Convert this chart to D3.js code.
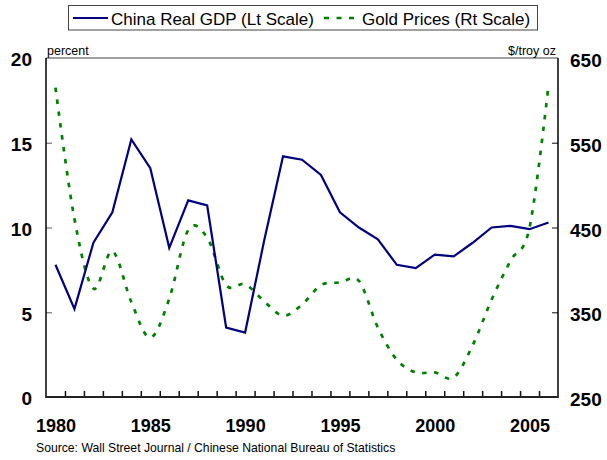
<!DOCTYPE html>
<html>
<head>
<meta charset="utf-8">
<script src="https://cdn.jsdelivr.net/npm/d3@7"></script>
<style>
  html, body { margin: 0; padding: 0; background: #fff; }
  svg { display: block; font-family: "Liberation Sans", Arial, sans-serif; }
</style>
</head>
<body>
<svg id="chart" width="607" height="460"></svg>
<script>
const years = d3.range(1980, 2007);
const gdp = [7.8, 5.2, 9.1, 10.9, 15.2, 13.5, 8.8, 11.6, 11.3, 4.1, 3.8, 9.2, 14.2, 14.0, 13.1, 10.9, 10.0, 9.3, 7.8, 7.6, 8.4, 8.3, 9.1, 10.0, 10.1, 9.9, 10.3];
const gold = [615, 460, 378, 422, 362, 320, 366, 447, 438, 382, 383, 363, 346, 359, 382, 385, 387, 332, 294, 279, 279, 273, 311, 365, 411, 450, 618];
const leftTicks = [0, 5, 10, 15, 20];
const rightTicks = [250, 350, 450, 550, 650];
const xLabels = [1980, 1985, 1990, 1995, 2000, 2005];
const legendLabels = ["China Real GDP (Lt Scale)", "Gold Prices (Rt Scale)"];

const svg = d3.select("#chart");
const L = 46, R = 558, T = 58, B = 397;

const x = d3.scaleLinear().domain([1979.5, 2006.5]).range([L, R]);
const yL = d3.scaleLinear().domain([0, 20]).range([B, T]);
const yR = d3.scaleLinear().domain([250, 650]).range([B, T]);

// frame top (gray)
svg.append("line").attr("x1", L).attr("x2", R).attr("y1", T).attr("y2", T)
  .attr("stroke", "#808080").attr("stroke-width", 1.5);

// x ticks at category boundaries
const bounds = d3.range(1980, 2007).map(d => d + 0.5).filter(d => d < 2006.5);
const xt = svg.append("g").attr("transform", `translate(0,${B})`)
  .call(d3.axisBottom(x).tickValues(bounds).tickSize(-6).tickFormat(""));
xt.select(".domain").remove();
xt.selectAll("line").attr("stroke", "#111").attr("stroke-width", 1.5);

// x labels
const xl = svg.append("g").attr("transform", `translate(0,${B})`)
  .call(d3.axisBottom(x).tickValues(xLabels).tickSize(0).tickPadding(22).tickFormat(d3.format("d")));
xl.select(".domain").remove();
xl.selectAll("text").attr("font-size", 18).attr("font-weight", "bold")
  .attr("fill", "#000").attr("font-family", "Liberation Sans, Arial, sans-serif");

// left ticks inside
const ylt = svg.append("g").attr("transform", `translate(${L},0)`)
  .call(d3.axisLeft(yL).tickValues([5, 10, 15]).tickSize(-6).tickFormat(""));
ylt.select(".domain").remove();
ylt.selectAll("line").attr("stroke", "#777").attr("stroke-width", 1.2);
const yll = svg.append("g").attr("transform", `translate(${L},0)`)
  .call(d3.axisLeft(yL).tickValues(leftTicks).tickSize(0).tickPadding(14));
yll.select(".domain").remove();
yll.selectAll("text").attr("font-size", 19).attr("font-weight", "bold").attr("dy", "0.42em")
  .attr("fill", "#000").attr("font-family", "Liberation Sans, Arial, sans-serif");

// right ticks inside
const yrt = svg.append("g").attr("transform", `translate(${R},0)`)
  .call(d3.axisRight(yR).tickValues([350, 450, 550]).tickSize(-6).tickFormat(""));
yrt.select(".domain").remove();
yrt.selectAll("line").attr("stroke", "#333").attr("stroke-width", 1.2);
const yrl = svg.append("g").attr("transform", `translate(${R},0)`)
  .call(d3.axisRight(yR).tickValues(rightTicks).tickSize(0).tickPadding(12));
yrl.select(".domain").remove();
yrl.selectAll("text").attr("font-size", 19).attr("font-weight", "bold").attr("dy", "0.45em")
  .attr("fill", "#000").attr("font-family", "Liberation Sans, Arial, sans-serif");

// axis lines
svg.append("line").attr("x1", L).attr("x2", L).attr("y1", T).attr("y2", B + 1)
  .attr("stroke", "#000").attr("stroke-width", 1.5);
svg.append("line").attr("x1", R).attr("x2", R).attr("y1", T).attr("y2", B + 1)
  .attr("stroke", "#000").attr("stroke-width", 1.5);
svg.append("line").attr("x1", L).attr("x2", R).attr("y1", B).attr("y2", B)
  .attr("stroke", "#222").attr("stroke-width", 2);

// unit labels
svg.append("text").attr("x", 47).attr("y", 55).attr("font-size", 12.5).attr("fill", "#000").text("percent");
svg.append("text").attr("x", 556).attr("y", 55).attr("font-size", 12.5).attr("fill", "#000")
  .attr("text-anchor", "end").text("$/troy oz");

// lines
const goldLine = d3.line().x((d, i) => x(years[i])).y(d => yR(d)).curve(d3.curveCardinal.tension(0));
svg.append("path").datum(gold).attr("d", goldLine).attr("fill", "none")
  .attr("stroke", "#008000").attr("stroke-width", 2.7).attr("stroke-dasharray", "4.5,7.5");

const gdpLine = d3.line().x((d, i) => x(years[i])).y(d => yL(d));
svg.append("path").datum(gdp).attr("d", gdpLine).attr("fill", "none")
  .attr("stroke", "#000080").attr("stroke-width", 2.2).attr("stroke-linejoin", "miter");

// legend
svg.append("rect").attr("x", 68.5).attr("y", 5.5).attr("width", 469).attr("height", 24.5)
  .attr("fill", "#fff").attr("stroke", "#444").attr("stroke-width", 1);
svg.append("line").attr("x1", 73).attr("x2", 108).attr("y1", 18).attr("y2", 18)
  .attr("stroke", "#000080").attr("stroke-width", 2.2);
svg.append("text").attr("x", 111).attr("y", 24.5).attr("font-size", 17).attr("fill", "#000").text(legendLabels[0]);
svg.append("line").attr("x1", 324).attr("x2", 355).attr("y1", 18).attr("y2", 18)
  .attr("stroke", "#008000").attr("stroke-width", 2.7).attr("stroke-dasharray", "5,7.5");
svg.append("text").attr("x", 362).attr("y", 24.5).attr("font-size", 17).attr("fill", "#000").text(legendLabels[1]);

// source
svg.append("text").attr("x", 36).attr("y", 452).attr("font-size", 12.2).attr("fill", "#000")
  .text("Source: Wall Street Journal / Chinese National Bureau of Statistics");
</script>
</body>
</html>
